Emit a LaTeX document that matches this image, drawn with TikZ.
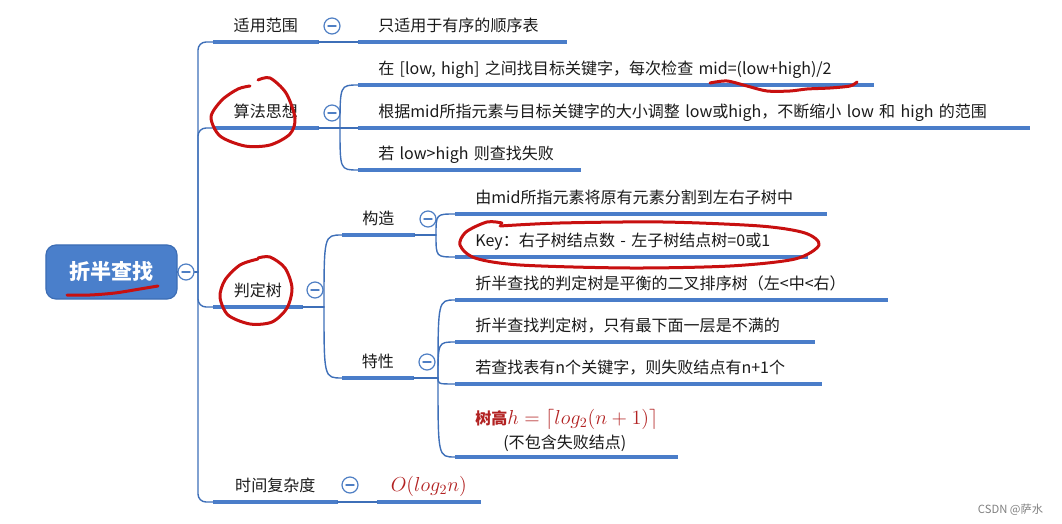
\documentclass[tikz,border=0pt]{standalone}
\usepackage{fontspec}
\newfontfamily\cjk{Noto Sans CJK SC}
\definecolor{barblue}{HTML}{4A7DC9}
\definecolor{linkblue}{HTML}{3E6FB8}
\definecolor{circblue}{HTML}{4F7FC4}
\definecolor{rootblue}{HTML}{4A7FCB}
\definecolor{rootedge}{HTML}{3C6DB4}
\definecolor{penred}{HTML}{C81010}
\definecolor{formred}{HTML}{B22222}
\definecolor{textblack}{HTML}{1A1A1A}
\begin{document}
\begin{tikzpicture}[x=0.025cm,y=-0.025cm,line cap=round,line join=round,
	font=\cjk\fontsize{11.4pt}{14pt}\selectfont,text=textblack,
	bar/.style={draw=barblue,line width=0.09cm,line cap=butt},
	link/.style={draw=linkblue,line width=0.035cm},
	root/.style={rounded corners=0.25cm,fill=rootblue,draw=rootedge,line width=0.03cm,minimum width=3.275cm,minimum height=1.35cm,text=white,font=\cjk\bfseries\fontsize{15pt}{18pt}\selectfont},
	topic/.style={anchor=south west,inner xsep=0pt,inner ysep=4.5pt,text depth=2.5pt,minimum width=#1},
	leaf/.style={anchor=south west,inner xsep=0.5cm,inner ysep=4.5pt,text depth=2.5pt,text width=#1,align=left},
	minus/.style={circle,draw=circblue,line width=0.03cm,fill=white,minimum size=0.4cm,inner sep=0pt,
		path picture={\draw[circblue,line width=0.035cm] (path picture bounding box.center) +(-4,0) -- +(4,0);}},
	pen/.style={draw=penred,line width=0.075cm}]
	\useasboundingbox (0,0) rectangle (1062,524);
	% root and first level
	\node[root] (zb) at (111.5,272) {折半查找};
	\node[topic=2.625cm] (fw) at (213,42) {适用范围};
	\node[topic=2.625cm] (sf) at (213,128) {算法思想};
	\node[topic=2.225cm] (pd) at (213,307) {判定树};
	\node[topic=3.1cm] (sj) at (213,502) {时间复杂度};
	\node[topic=1.8cm] (gz) at (342,235) {构造};
	\node[topic=1.775cm] (tx) at (342,378) {特性};
	\node[topic=2.575cm,font=\cjk\fontsize{14pt}{16pt}\selectfont] (sj1) at (377,502) {\color{formred}$O(log_2n)$};
	% leaves
	\node[leaf=4.2cm] (fw1) at (358,42) {只适用于有序的顺序表};
	\node[leaf=11.875cm] (sf1) at (358,85) {在 [low, high] 之间找目标关键字，每次检查 mid=(low+high)/2};
	\node[leaf=15.775cm] (sf2) at (358,128) {根据mid所指元素与目标关键字的大小调整 low或high，不断缩小 low 和 high 的范围};
	\node[leaf=4.55cm] (sf3) at (358,170) {若 low>high 则查找失败};
	\node[leaf=8.275cm] (gz1) at (455,214) {由mid所指元素将原有元素分割到左右子树中};
	\node[leaf=7.8cm] (gz2) at (455,257) {Key：右子树结点数 - 左子树结点树=0或1};
	\node[leaf=9.8cm] (tx1) at (455,300) {折半查找的判定树是平衡的二叉排序树（左<中<右）};
	\node[leaf=7.975cm] (tx2) at (455,342) {折半查找判定树，只有最下面一层是不满的};
	\node[leaf=8.15cm] (tx3) at (455,384) {若查找表有n个关键字，则失败结点有n+1个};
	\node[leaf=4.55cm,text depth=,inner ysep=3.5pt] (tx4) at (455,457) {\mbox{\color{formred}\textbf{树高}\fontsize{14.5pt}{16pt}\selectfont$h=\lceil log_2(n+1)\rceil$}\\[3pt]\hspace*{0.7cm}(不包含失败结点)};
	\foreach \n in {fw,sf,pd,sj,gz,tx,sj1,fw1,sf1,sf2,sf3,gz1,gz2,tx1,tx2,tx3,tx4}
		\draw[bar] (\n.south west) -- (\n.south east);
	% connectors
	\coordinate (tk) at (198,272);
	\coordinate (jsf) at (340,128);
	\coordinate (jpd) at (324,307);
	\coordinate (jgz) at (436,235);
	\coordinate (jtx) at (438,378);
	\foreach \m/\x/\y in {m0/186/272,m1/332/26,m2/332/113,m3/315/290,m4/350/485,m5/428/219,m6/427/362}
		\node[minus] (\m) at (\x,\y) {};
	\draw[link] (zb.east) -- (m0.west) (m0.east) -- (tk);
	\foreach \n in {fw,sf,pd,sj}
		\draw[link,rounded corners=0.2cm] (tk) |- (\n.south west);
	\draw[link] (fw.south east) -- (fw1.south west);
	\draw[link] (sj.south east) -- (sj1.south west);
	\draw[link] (sf.south east) -- (jsf) -- (sf2.south west);
	\draw[link] (pd.south east) -- (jpd);
	\draw[link] (gz.south east) -- (jgz);
	\draw[link] (tx.south east) -- (jtx);
	\foreach \j/\c in {jsf/sf1,jsf/sf3,jpd/gz,jpd/tx,jgz/gz1,jgz/gz2,jtx/tx1,jtx/tx2,jtx/tx3,jtx/tx4}
		\draw[link] (\j) .. controls (\j |- \c.south west) .. (\c.south west);
	% red pen marks
	\draw[pen] plot[smooth] coordinates {(67,295) (90,295) (115,293) (140,289) (158,286)};
	\draw[pen] plot[smooth] coordinates {(250,86) (238,89) (222,100) (211,117) (220,136) (245,146) (270,145) (290,134) (295,118) (286,93) (270,78) (258,80)};
	\draw[pen] plot[smooth] coordinates {(258,259) (240,265) (225,280) (220,297) (228,315) (250,324) (272,322) (287,308) (292,288) (285,268) (270,257) (258,258)};
	\draw[pen] plot[smooth] coordinates {(502,223) (487,222) (466,232) (460,245) (475,258) (520,265) (630,268) (730,266) (795,259) (819,245) (805,233) (760,226) (663,222) (560,223) (500,226)};
	\draw[pen] plot[smooth] coordinates {(710,83) (727,81) (747,86) (767,91) (790,91) (807,89) (830,88) (850,86) (857,82)};
	\node[anchor=east,text=gray,font=\cjk\fontsize{8pt}{10pt}\selectfont] (wm) at (1048,510) {CSDN @萨水};
\end{tikzpicture}
\end{document}
